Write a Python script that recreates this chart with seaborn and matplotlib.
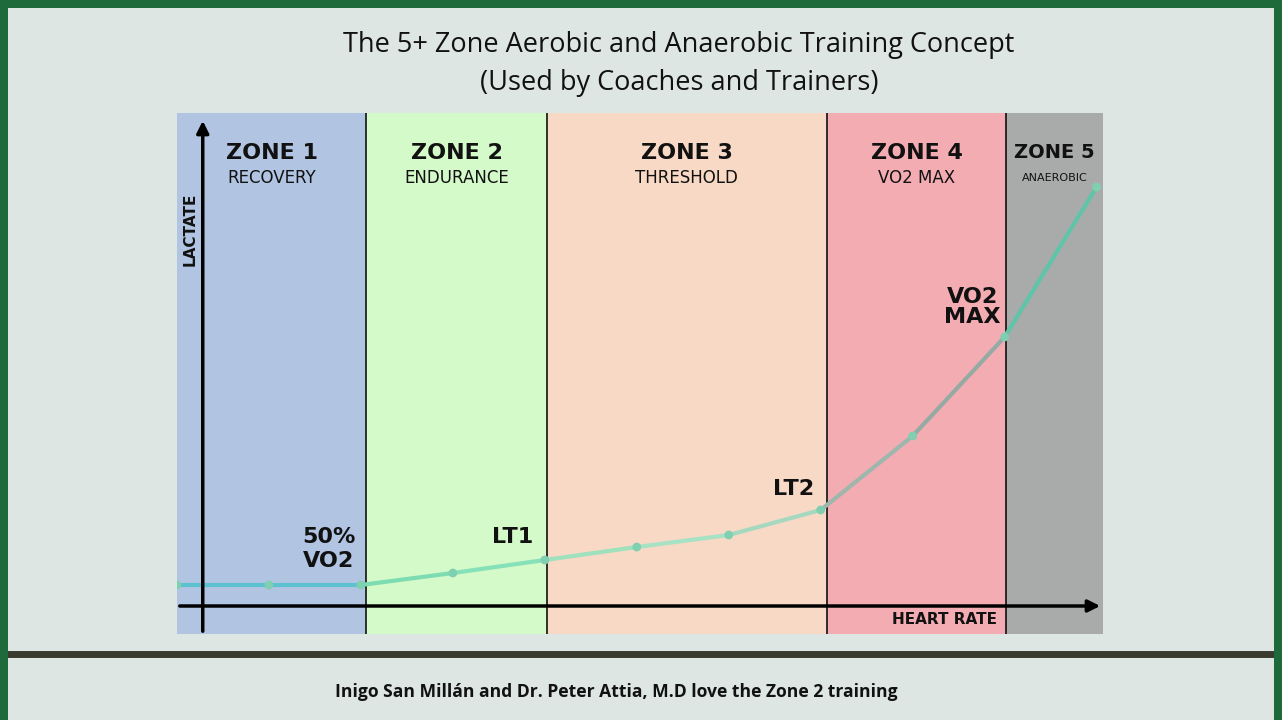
import matplotlib.pyplot as plt
import seaborn as sns
from matplotlib.patches import Rectangle

sns.set_theme(style="white")
plt.rcParams['font.family'] = ['DejaVu Sans']

# data
heart_rate = [0, 1, 2, 3, 4, 5, 6, 7, 8, 9, 10]
lactate = [49, 49, 49, 61, 74, 87, 99, 124, 198, 297, 447]
zone_edges = [0, 2.06, 4.02, 7.07, 9.02, 10.07]
zone_colors = ['#b1c5e3', '#d4fac9', '#f8d9c5', '#f4acb3', '#a9abaa']
zone_names = ['ZONE 1', 'ZONE 2', 'ZONE 3', 'ZONE 4', 'ZONE 5']
zone_subs = ['RECOVERY', 'ENDURANCE', 'THRESHOLD', 'VO2 MAX', 'ANAEROBIC']
seg_colors = ['#5cc2cf', '#5cc2cf', '#7ddcb2', '#86e0b8', '#9fe0bd', '#a8e2c4',
              '#a6d8c0', '#9eb6ac', '#96aaa4', '#5fc4a8']

fig = plt.figure(figsize=(12.82, 7.2), dpi=100)
fig.patch.set_facecolor('#1e6a3b')
bg = fig.add_axes([8/1282, 0, 1266/1282, 712/720])
bg.set_facecolor('#dde6e2')
bg.set_xticks([]); bg.set_yticks([])
for s in bg.spines.values():
    s.set_visible(False)
bg.set_xlim(0, 1266); bg.set_ylim(0, 712)
bg.axhline(720 - 654, color='#3a3a2e', lw=5)
bg.text(679 - 8, 720 - 45, 'The 5+ Zone Aerobic and Anaerobic Training Concept',
        ha='center', va='center', fontsize=19.5, color='#111111', family='Open Sans')
bg.text(679 - 8, 720 - 83, '(Used by Coaches and Trainers)',
        ha='center', va='center', fontsize=19.5, color='#111111', family='Open Sans')
bg.text(616 - 8, 720 - 692, 'Inigo San Millán and Dr. Peter Attia, M.D love the Zone 2 training',
        ha='center', va='center', fontsize=12.6, fontweight='bold', color='#111111', family='Open Sans')

ax = fig.add_axes([177/1282, (720 - 634)/720, 926/1282, 521/720])
ax.set_xlim(0, 10.07)
ax.set_ylim(0, 521)
ax.set_xticks([]); ax.set_yticks([])
for s in ax.spines.values():
    s.set_visible(False)

for i in range(5):
    ax.add_patch(Rectangle((zone_edges[i], 0), zone_edges[i + 1] - zone_edges[i], 521,
                           color=zone_colors[i], zorder=0))
    if 0 < i:
        ax.axvline(zone_edges[i], color='#111111', lw=1.2, zorder=1)
    cx = (zone_edges[i] + zone_edges[i + 1]) / 2
    ax.text(cx, 481, zone_names[i], ha='center', va='center', fontsize=16 if i < 4 else 14,
            fontweight='bold', color='#111111')
    ax.text(cx, 456, zone_subs[i], ha='center', va='center', fontsize=12 if i < 4 else 8,
            color='#111111')

for i in range(len(heart_rate) - 1):
    sns.lineplot(x=heart_rate[i:i + 2], y=lactate[i:i + 2], color=seg_colors[i], lw=3, ax=ax, zorder=3)
sns.scatterplot(x=heart_rate, y=lactate, color='#7fcfb0', s=40, edgecolor='none', ax=ax, zorder=4)

# axes arrows
ax.annotate('', xy=(0.28, 516), xytext=(0.28, 0),
            arrowprops=dict(arrowstyle='-|>', color='black', lw=2.5, mutation_scale=18), zorder=5)
ax.annotate('', xy=(10.07, 28), xytext=(0, 28),
            arrowprops=dict(arrowstyle='-|>', color='black', lw=2.5, mutation_scale=18), zorder=5)
ax.text(0.14, 405, 'LACTATE', rotation=90, ha='center', va='center', fontsize=11,
        fontweight='bold', color='#111111')
ax.text(8.35, 15, 'HEART RATE', ha='center', va='center', fontsize=11, fontweight='bold',
        color='#111111')

ax.text(1.65, 85, '50%\nVO2', ha='center', va='center', fontsize=16, fontweight='bold',
        linespacing=1.2, color='#111111')
ax.text(3.65, 97, 'LT1', ha='center', va='center', fontsize=16, fontweight='bold', color='#111111')
ax.text(6.7, 145, 'LT2', ha='center', va='center', fontsize=16, fontweight='bold', color='#111111')
ax.text(8.65, 327, 'VO2\nMAX', ha='center', va='center', fontsize=16, fontweight='bold',
        linespacing=1.0, color='#111111')

fig.savefig('out.png', dpi=100, facecolor=fig.get_facecolor())
